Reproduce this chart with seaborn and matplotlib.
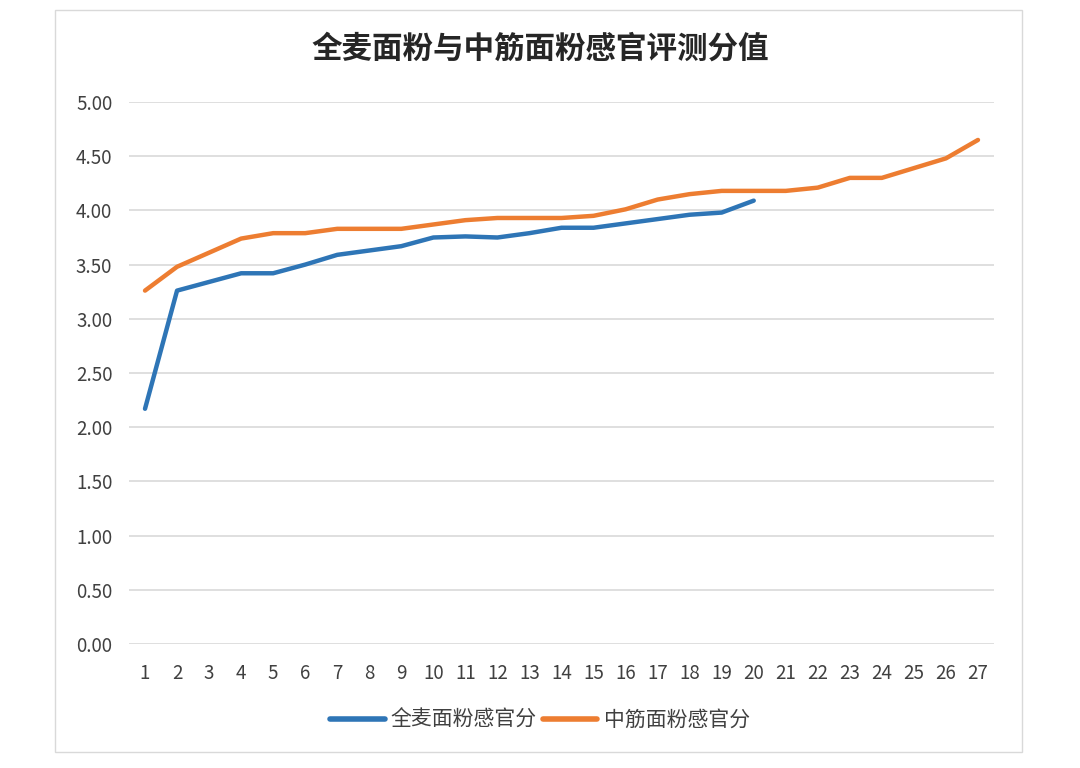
import pandas as pd
import seaborn as sb
import matplotlib.pyplot as plt
from matplotlib.patches import Rectangle

# sensory scores
whole_wheat = [2.17, 3.26, 3.34, 3.42, 3.42, 3.50, 3.59, 3.63, 3.67, 3.75,
               3.76, 3.75, 3.79, 3.84, 3.84, 3.88, 3.92, 3.96, 3.98, 4.09]
all_purpose = [3.26, 3.48, 3.61, 3.74, 3.79, 3.79, 3.83, 3.83, 3.83, 3.87,
               3.91, 3.93, 3.93, 3.93, 3.95, 4.01, 4.10, 4.15, 4.18, 4.18,
               4.18, 4.21, 4.30, 4.30, 4.39, 4.48, 4.65]
series_names = ['全麦面粉感官分', '中筋面粉感官分']
y_ticks = [0, 0.5, 1, 1.5, 2, 2.5, 3, 3.5, 4, 4.5, 5]

df = pd.concat([
    pd.DataFrame({'idx': range(1, len(whole_wheat) + 1), 'score': whole_wheat, 'series': series_names[0]}),
    pd.DataFrame({'idx': range(1, len(all_purpose) + 1), 'score': all_purpose, 'series': series_names[1]}),
])

sb.set_style('white')
plt.rcParams['font.family'] = ['Noto Sans CJK SC', 'DejaVu Sans']

fig = plt.figure(figsize=(10.8, 7.68), dpi=100)
ax = fig.add_axes([129 / 1080, 1 - 644 / 768, 865 / 1080, 542 / 768])

sb.lineplot(
    data=df, x='idx', y='score', hue='series',
    palette=['#2E75B6', '#ED7D31'], linewidth=3.2, ax=ax,
    solid_capstyle='round'
)

ax.set_xlim(0.5, len(all_purpose) + 0.5)
ax.set_ylim(0, 5)
ax.set_yticks(y_ticks)
ax.set_yticklabels([f'{v:.2f}' for v in y_ticks])
ax.set_xticks(range(1, len(all_purpose) + 1))
ax.yaxis.grid(True, color='#d9d9d9', linewidth=1.2)
ax.set_axisbelow(True)
for s in ax.spines.values():
    s.set_visible(False)
ax.tick_params(axis='both', length=0, labelsize=13.5, colors='#404040', pad=14)
ax.tick_params(axis='y', pad=12)
ax.set_xlabel('')
ax.set_ylabel('')

fig.text(0.5, 1 - 49 / 768, '全麦面粉与中筋面粉感官评测分值', ha='center', va='center',
         fontsize=22, fontweight='bold', color='#262626')

leg = ax.legend(loc='center', bbox_to_anchor=(540 / 1080, 1 - 720 / 768),
                bbox_transform=fig.transFigure, ncol=2, frameon=False,
                fontsize=15, handlelength=2.6, columnspacing=0.3, handletextpad=0.3)
for line in leg.get_lines():
    line.set_linewidth(4)
for t in leg.get_texts():
    t.set_color('#404040')

fig.patches.append(Rectangle((55 / 1080, 1 - 752 / 768), 967 / 1080, 742 / 768,
                             transform=fig.transFigure, fill=False,
                             edgecolor='#d9d9d9', linewidth=1))

plt.savefig('out.png')
